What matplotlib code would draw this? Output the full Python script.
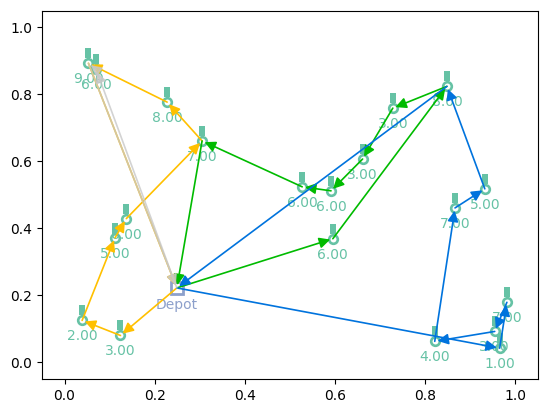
import matplotlib
matplotlib.use("Agg")
import matplotlib.pyplot as plt
from matplotlib.path import Path

# Depot and customer locations
depot_xy = (0.249, 0.222)
cust_x = [0.053, 0.070, 0.2275, 0.305, 0.137, 0.112, 0.039, 0.124,
          0.527, 0.591, 0.661, 0.728, 0.848, 0.595,
          0.866, 0.932, 0.821, 0.954, 0.965, 0.981]
cust_y = [0.893, 0.875, 0.777, 0.661, 0.429, 0.372, 0.125, 0.080,
          0.524, 0.512, 0.607, 0.759, 0.824, 0.369,
          0.461, 0.518, 0.0625, 0.092, 0.042, 0.179]
cust_demand = [9, 6, 8, 7, 6, 5, 2, 3,
               6, 6, 3, 3, 8, 6,
               7, 5, 4, 3, 1, 7]

# Routes as customer indices ("D" = depot)
route_yellow = ["D", 7, 6, 5, 4, 3, 2, 0, "D"]
route_green = ["D", 13, 12, 11, 10, 9, 8, 3, "D"]
route_blue = ["D", 18, 19, 17, 16, 14, 15, 12, "D"]
route_gray = ["D", 1, 0, "D"]
routes = [route_yellow, route_green, route_blue, route_gray]
route_colors = ["#ffc000", "#00bb00", "#0073dd", "#c8c8c8"]
route_alpha = [1.0, 1.0, 1.0, 0.8]

cust_color = "#66c2a5"
depot_color = "#8da0cb"

fig = plt.figure(figsize=(5.47, 4.13), dpi=100)
ax = fig.add_axes([42 / 547, 34 / 413, 496 / 547, 368.3 / 413])


def coord(node):
    if node == "D":
        return depot_xy
    return (cust_x[node], cust_y[node])


# little bar sitting on top of each customer ring
bar = Path([(-0.55, 1.0), (0.55, 1.0), (0.55, 3.0), (-0.55, 3.0), (-0.55, 1.0)],
           [Path.MOVETO, Path.LINETO, Path.LINETO, Path.LINETO, Path.CLOSEPOLY])

ax.plot(cust_x, cust_y, linestyle="none", marker=bar, markersize=21.6,
        markerfacecolor=cust_color, markeredgewidth=0, zorder=2)
ax.plot(cust_x, cust_y, linestyle="none", marker="o", markersize=6.2,
        markerfacecolor="white", markeredgecolor=cust_color,
        markeredgewidth=1.9, zorder=2)
for x, y, d in zip(cust_x, cust_y, cust_demand):
    ax.annotate(f"{d:.2f}", (x, y), xytext=(0, -11.5), textcoords="offset points",
                ha="center", va="center", color=cust_color, fontsize=10)

ax.plot(*depot_xy, linestyle="none", marker="s", markersize=9.2,
        markerfacecolor="none", markeredgecolor=depot_color,
        markeredgewidth=2.0, zorder=2)
ax.annotate("Depot", depot_xy, xytext=(0, -12.5), textcoords="offset points",
            ha="center", va="center", color=depot_color, fontsize=10)

for route, c, al in zip(routes, route_colors, route_alpha):
    for a, b in zip(route[:-1], route[1:]):
        ax.annotate("", xy=coord(b), xytext=coord(a),
                    arrowprops=dict(arrowstyle="-|>", color=c, lw=1.2,
                                    mutation_scale=16, shrinkA=0, shrinkB=2,
                                    alpha=al))

ax.set_xlim(-0.05, 1.05)
ax.set_ylim(-0.05, 1.05)
ax.set_xticks([0.0, 0.2, 0.4, 0.6, 0.8, 1.0])
ax.set_yticks([0.0, 0.2, 0.4, 0.6, 0.8, 1.0])

fig.savefig("out.png", dpi=100)
